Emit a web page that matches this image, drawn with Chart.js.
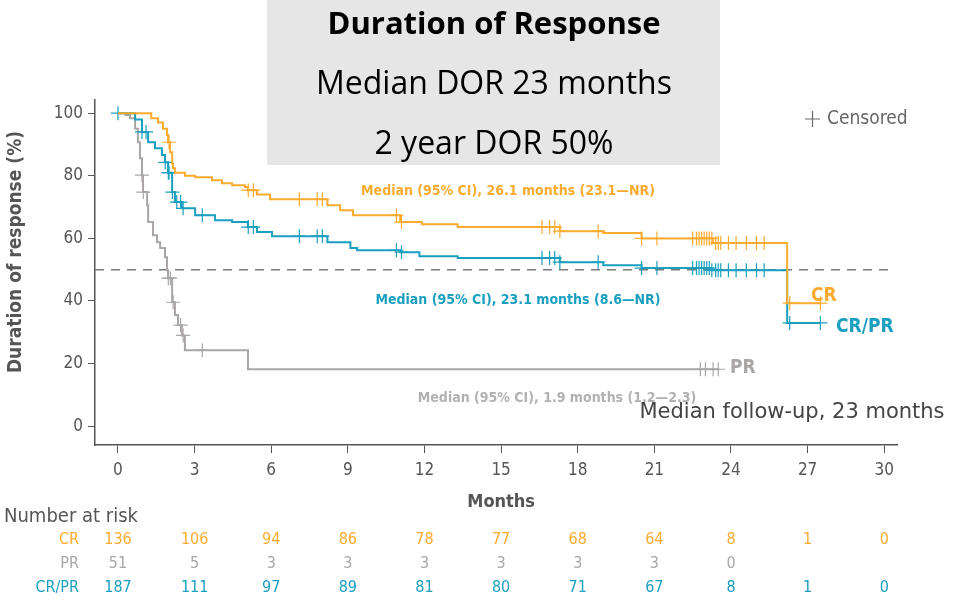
<!DOCTYPE html>
<html>
<head>
<meta charset="utf-8">
<script src="https://cdn.jsdelivr.net/npm/chart.js@4.4.1/dist/chart.umd.min.js"></script>
<style>
  body { margin: 0; background: #fff; }
  #wrap { width: 954px; height: 600px; }
</style>
</head>
<body>
<div id="wrap"><canvas id="graficoDOR" width="954" height="600"></canvas></div>
<script>
// Colores
const NARANJA = '#fbab2f';
const TURQUESA = '#1a9fbf';
const GRIS = '#aba6a6';
const EJE = '#555555';
const FUENTE = '"DejaVu Sans Condensed", "Liberation Sans Narrow", sans-serif';

// Curva CR (meses, %)
const tiemposCR = [0, 1.3, 1.57, 1.76, 1.92, 1.96, 2.04, 2.12, 2.15, 2.23, 2.62, 3.02, 3.68, 4.07, 4.47, 4.97, 5.09, 5.44, 5.95, 8.2, 8.7, 9.2, 11.05, 11.9, 13.3, 17.3, 19.0, 20.5, 23.3, 26.2, 27.5];
const valoresCR = [100, 98.4, 97, 95, 93, 90.7, 87.5, 84, 82.4, 81, 80, 79.5, 78.6, 77.6, 77, 76.4, 75.4, 74, 72.5, 70.6, 69, 67.4, 65.2, 64.5, 63.6, 62.3, 61.7, 60, 58.5, 39.3, 39.3];
const censuradosCR = [2.0, 5.1, 5.3, 7.1, 7.8, 8.0, 10.9, 11.1, 16.6, 16.9, 17.1, 17.3, 18.8, 20.5, 21.1, 22.5, 22.65, 22.75, 22.85, 22.95, 23.05, 23.15, 23.25, 23.4, 23.5, 23.6, 23.9, 24.2, 24.6, 25.0, 25.3, 26.3, 27.5];

// Curva CR/PR
const tiemposCRPR = [0, 0.67, 0.94, 1.18, 1.45, 1.72, 1.84, 1.96, 2.12, 2.23, 2.5, 3.02, 3.8, 4.47, 5.09, 5.44, 6.03, 8.2, 9.1, 9.36, 11.05, 11.8, 13.3, 17.3, 19.0, 20.5, 23.2, 26.2, 27.5];
const valoresCRPR = [100, 98, 94, 90.7, 88.8, 86.6, 84.3, 81, 74.8, 71.6, 69.6, 67.4, 65.8, 65.2, 63.6, 62, 60.7, 58.8, 56.9, 56.2, 55.6, 54.3, 53.7, 52.4, 51.4, 50.5, 49.8, 33, 33];
const censuradosCRPR = [0, 0.94, 1.1, 1.85, 1.97, 2.0, 2.13, 2.3, 2.45, 2.55, 3.3, 5.1, 5.3, 7.1, 7.8, 8.0, 10.9, 11.1, 16.6, 16.9, 17.1, 17.3, 18.8, 20.5, 21.1, 22.5, 22.65, 22.75, 22.85, 22.95, 23.05, 23.15, 23.25, 23.4, 23.5, 23.6, 23.9, 24.2, 24.6, 25.0, 25.3, 26.3, 27.5];

// Curva PR
const tiemposPR = [0, 0.3, 0.47, 0.67, 0.78, 0.86, 0.94, 0.98, 1.14, 1.18, 1.37, 1.53, 1.65, 1.84, 1.92, 1.96, 2.12, 2.23, 2.35, 2.5, 2.62, 5.09, 23.5];
const valoresPR = [100, 99.4, 98.4, 95, 90.7, 85.6, 80.2, 74.8, 70.6, 65.2, 61, 58.8, 56.9, 54, 49.8, 47.3, 39.6, 35.5, 32.3, 29, 24.3, 18.2, 18.2];
const censuradosPR = [0.94, 0.99, 1.97, 2.05, 2.16, 2.45, 2.55, 3.3, 22.8, 23.0, 23.3, 23.5];

// Ejes
const ticksX = [0, 3, 6, 9, 12, 15, 18, 21, 24, 27, 30];
const ticksY = [0, 20, 40, 60, 80, 100];

// Número en riesgo
const riesgoCR = [136, 106, 94, 86, 78, 77, 68, 64, 8, 1, 0];
const riesgoPR = [51, 5, 3, 3, 3, 3, 3, 3, 0, null, null];
const riesgoCRPR = [187, 111, 97, 89, 81, 80, 71, 67, 8, 1, 0];

// Valor de la curva en un tiempo dado (escalón)
function valorEn(tiempos, valores, t) {
    let v = valores[0];
    for (let i = 0; i < tiempos.length; i++) {
        if (tiempos[i] <= t) v = valores[i];
    }
    return v;
}

function puntos(tiempos, valores) {
    return tiempos.map((t, i) => ({ x: t, y: valores[i] }));
}

function marcas(censurados, tiempos, valores) {
    return censurados.map(t => ({ x: t, y: valorEn(tiempos, valores, t) }));
}

function curva(tiempos, valores, color) {
    return {
        data: puntos(tiempos, valores),
        showLine: true,
        borderColor: color,
        borderWidth: 2,
        stepped: true,
        pointRadius: 0,
        fill: false
    };
}

function cruces(censurados, tiempos, valores, color) {
    return {
        data: marcas(censurados, tiempos, valores),
        showLine: false,
        pointStyle: 'cross',
        pointRadius: 7,
        pointBorderWidth: 1.2,
        pointBorderColor: color,
        borderColor: color
    };
}

// Textos y tabla dibujados sobre el canvas
const textosPlugin = {
    id: 'textos',
    beforeDraw(chart) {
        const ctx = chart.ctx;
        ctx.save();
        // Caja del título
        ctx.fillStyle = '#e6e6e6';
        ctx.fillRect(267, 0, 453, 165);
        ctx.fillStyle = '#000';
        ctx.textAlign = 'center';
        ctx.textBaseline = 'middle';
        ctx.font = 'bold 31px "Open Sans", sans-serif';
        ctx.fillText('Duration of Response', 494, 25);
        ctx.font = '32px "Open Sans", sans-serif';
        ctx.fillText('Median DOR 23 months', 494, 85);
        ctx.fillText('2 year DOR 50%', 494, 145);
        ctx.restore();
    },
    afterDraw(chart) {
        const ctx = chart.ctx;
        const x = chart.scales.x;
        ctx.save();
        ctx.textBaseline = 'middle';

        // Título eje y
        ctx.save();
        ctx.translate(16, 252);
        ctx.rotate(-Math.PI / 2);
        ctx.textAlign = 'center';
        ctx.fillStyle = EJE;
        ctx.font = 'bold 19px ' + FUENTE;
        ctx.fillText('Duration of response (%)', 0, 0);
        ctx.restore();

        // Leyenda de censurados
        ctx.strokeStyle = '#666';
        ctx.lineWidth = 1.2;
        ctx.beginPath();
        ctx.moveTo(805, 119); ctx.lineTo(820, 119);
        ctx.moveTo(812.5, 111); ctx.lineTo(812.5, 127);
        ctx.stroke();
        ctx.fillStyle = '#666';
        ctx.textAlign = 'left';
        ctx.font = '19px ' + FUENTE;
        ctx.fillText('Censored', 827, 119);

        // Medianas
        ctx.textAlign = 'center';
        ctx.font = 'bold 14px ' + FUENTE;
        ctx.fillStyle = NARANJA;
        ctx.fillText('Median (95% CI), 26.1 months (23.1\u2014NR)', 508, 191);
        ctx.fillStyle = TURQUESA;
        ctx.fillText('Median (95% CI), 23.1 months (8.6\u2014NR)', 518, 300);
        ctx.fillStyle = '#b3b0b0';
        ctx.fillText('Median (95% CI), 1.9 months (1.2\u20142.3)', 557, 398);

        ctx.fillStyle = '#444';
        ctx.font = '21px "DejaVu Sans", sans-serif';
        ctx.fillText('Median follow-up, 23 months', 792, 413);

        // Etiquetas de curvas
        ctx.textAlign = 'left';
        ctx.font = 'bold 19px ' + FUENTE;
        ctx.fillStyle = NARANJA;
        ctx.fillText('CR', 811, 296);
        ctx.fillStyle = TURQUESA;
        ctx.fillText('CR/PR', 836, 327);
        ctx.fillStyle = GRIS;
        ctx.fillText('PR', 730, 368);

        // Título eje x
        ctx.textAlign = 'center';
        ctx.fillStyle = EJE;
        ctx.font = 'bold 18px ' + FUENTE;
        ctx.fillText('Months', x.getPixelForValue(15), 502);

        // Tabla de número en riesgo
        ctx.textAlign = 'left';
        ctx.font = '20px ' + FUENTE;
        ctx.fillText('Number at risk', 4, 517);
        const filas = [
            { nombre: 'CR', valores: riesgoCR, color: NARANJA, y: 540 },
            { nombre: 'PR', valores: riesgoPR, color: GRIS, y: 564 },
            { nombre: 'CR/PR', valores: riesgoCRPR, color: TURQUESA, y: 588 }
        ];
        ctx.font = '16px ' + FUENTE;
        filas.forEach(f => {
            ctx.fillStyle = f.color;
            ctx.textAlign = 'right';
            ctx.fillText(f.nombre, 79, f.y);
            ctx.textAlign = 'center';
            f.valores.forEach((v, i) => {
                if (v !== null) ctx.fillText(String(v), x.getPixelForValue(ticksX[i]), f.y);
            });
        });
        ctx.restore();
    }
};

new Chart(document.getElementById('graficoDOR'), {
    type: 'scatter',
    data: {
        datasets: [
            curva(tiemposCR, valoresCR, NARANJA),
            cruces(censuradosCR, tiemposCR, valoresCR, NARANJA),
            curva(tiemposCRPR, valoresCRPR, TURQUESA),
            cruces(censuradosCRPR, tiemposCRPR, valoresCRPR, TURQUESA),
            curva(tiemposPR, valoresPR, GRIS),
            cruces(censuradosPR, tiemposPR, valoresPR, GRIS),
            {
                // Línea de referencia al 50%
                data: [{ x: -0.9, y: 50 }, { x: 30.2, y: 50 }],
                showLine: true,
                borderColor: '#7a7a7a',
                borderWidth: 1.5,
                borderDash: [9, 7],
                pointRadius: 0
            }
        ]
    },
    options: {
        responsive: false,
        animation: false,
        layout: { padding: { top: 100, right: 57, left: 0, bottom: 0 } },
        plugins: {
            legend: { display: false },
            tooltip: { enabled: false }
        },
        scales: {
            x: {
                type: 'linear',
                min: -0.9,
                max: 30.5,
                afterBuildTicks: s => { s.ticks = ticksX.map(v => ({ value: v })); },
                afterFit: s => { s.height = 155; },
                grid: { drawOnChartArea: false, drawTicks: true, tickLength: 8, color: EJE },
                border: { display: true, color: EJE, width: 1.5 },
                ticks: { color: EJE, font: { family: FUENTE, size: 17 }, padding: 7, maxRotation: 0 }
            },
            y: {
                type: 'linear',
                min: -6,
                max: 104.2,
                afterBuildTicks: s => { s.ticks = ticksY.map(v => ({ value: v })); },
                afterFit: s => { s.width = 95; },
                grid: { drawOnChartArea: false, drawTicks: true, tickLength: 7, color: EJE },
                border: { display: true, color: EJE, width: 1.5 },
                ticks: { color: EJE, font: { family: FUENTE, size: 17 }, padding: 5 }
            }
        }
    },
    plugins: [textosPlugin]
});
</script>
</body>
</html>
